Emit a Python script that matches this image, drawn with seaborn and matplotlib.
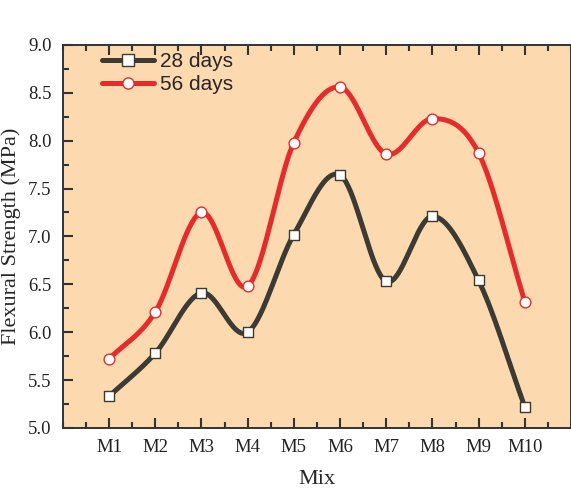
import numpy as np
import pandas as pd
import matplotlib
matplotlib.use("Agg")
import matplotlib.pyplot as plt
import seaborn as sns
from matplotlib.ticker import MultipleLocator

# Data
mixes = ["M1", "M2", "M3", "M4", "M5", "M6", "M7", "M8", "M9", "M10"]
days28 = [5.33, 5.78, 6.41, 6.00, 7.02, 7.64, 6.53, 7.21, 6.54, 5.22]
days56 = [5.72, 6.21, 7.25, 6.48, 7.98, 8.56, 7.86, 8.23, 7.87, 6.32]


def smooth_curve(x, y, n=40):
    # Catmull-Rom spline through the points, only for drawing the connecting curve
    x = np.asarray(x, float)
    y = np.asarray(y, float)
    m = np.gradient(y, x)
    xs_all, ys_all = [], []
    for i in range(len(x) - 1):
        h = x[i + 1] - x[i]
        t = np.linspace(0, 1, n)
        h00 = 2 * t**3 - 3 * t**2 + 1
        h10 = t**3 - 2 * t**2 + t
        h01 = -2 * t**3 + 3 * t**2
        h11 = t**3 - t**2
        xs_all.append(x[i] + t * h)
        ys_all.append(h00 * y[i] + h10 * h * m[i] + h01 * y[i + 1] + h11 * h * m[i + 1])
    return np.concatenate(xs_all), np.concatenate(ys_all)


sns.set_style("ticks")
plt.rcParams["font.family"] = ["Liberation Serif", "DejaVu Serif"]

fig = plt.figure(figsize=(5.71, 4.88), dpi=100)
ax = fig.add_axes([0.110, 0.123, 0.890, 0.785])
ax.set_facecolor("#fcd9ae")

pos = np.arange(1, len(mixes) + 1)
series = [("28 days", days28, "#3b3a33", "s"), ("56 days", days56, "#e52b2b", "o")]
for label, vals, color, marker in series:
    xs, ys = smooth_curve(pos, vals)
    sns.lineplot(x=xs, y=ys, ax=ax, color=color, lw=3.6, sort=False, zorder=2)
    sns.scatterplot(x=pos, y=vals, ax=ax, marker=marker, s=60, facecolor="white",
                    edgecolor=color, linewidth=1.0, zorder=3)
    ax.plot([], [], color=color, lw=3.6, marker=marker, ms=8, mfc="white",
            mec=color, mew=1.0, label=label)

ax.set_xlim(0, 11)
ax.set_ylim(5.0, 9.0)
ax.set_xticks(pos)
ax.set_xticklabels(mixes)
ax.xaxis.set_minor_locator(MultipleLocator(0.5))
ax.yaxis.set_major_locator(MultipleLocator(0.5))
ax.yaxis.set_minor_locator(MultipleLocator(0.25))
ax.tick_params(which="both", direction="in", top=True, right=False, labelsize=13.5,
               width=1.5, color="#333333", labelcolor="#222222")
ax.tick_params(which="major", length=7, pad=8)
ax.tick_params(which="minor", length=4)
for s in ax.spines.values():
    s.set_linewidth(1.4)
    s.set_color("#333333")

ax.set_xlabel("Mix", fontsize=16, labelpad=10)
ax.set_ylabel("Flexural Strength (MPa)", fontsize=16, labelpad=5)

leg = ax.legend(loc="upper left", bbox_to_anchor=(0.04, 1.03), frameon=False,
                prop={"family": ["Liberation Sans", "DejaVu Sans"], "size": 15},
                handlelength=2.5, handletextpad=0.3, labelspacing=0.2)

fig.savefig("out.png", dpi=100)
